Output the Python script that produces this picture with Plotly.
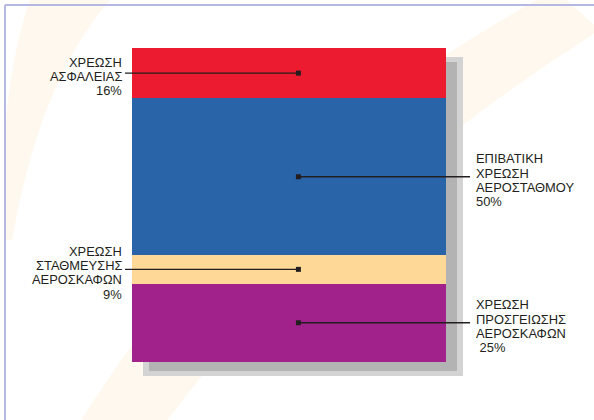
import plotly.graph_objects as go

# ---- data (bottom segment first) ----
categories = [
    "ΧΡΕΩΣΗ ΠΡΟΣΓΕΙΩΣΗΣ ΑΕΡΟΣΚΑΦΩΝ",
    "ΧΡΕΩΣΗ ΣΤΑΘΜΕΥΣΗΣ ΑΕΡΟΣΚΑΦΩΝ",
    "ΕΠΙΒΑΤΙΚΗ ΧΡΕΩΣΗ ΑΕΡΟΣΤΑΘΜΟΥ",
    "ΧΡΕΩΣΗ ΑΣΦΑΛΕΙΑΣ",
]
values = [25, 9, 50, 16]
pct_labels = ["\u00a025%", "9%", "50%", "16%"]
label_side = ["right", "left", "right", "left"]
colors = ["#A1228A", "#FED897", "#2964A9", "#ED1B2F"]

# ---- layout geometry (pixels of the 594x420 page) ----
W, H = 594, 420
L, R, T, B = 132, 148, 48, 58
PW, PH = W - L - R, H - T - B


def px(x):
    return (x - L) / PW


def py(y):
    return (H - B - y) / PH


TEXT = "#231F20"
FONT = dict(family="Liberation Sans, Arial, sans-serif", size=12.9, color=TEXT)

fig = go.Figure()
for cat, v, c in zip(categories, values, colors):
    fig.add_trace(go.Bar(
        x=[0], y=[v], width=[1], name=cat,
        marker=dict(color=c, line=dict(width=0)),
        hoverinfo="name+y", showlegend=False,
    ))

# segment centers via cumulative sums
centers = []
acc = 0
for v in values:
    centers.append(acc + v / 2)
    acc += v

marker_x = 0.03
fig.add_trace(go.Scatter(
    x=[marker_x] * len(centers), y=centers, mode="markers",
    marker=dict(symbol="square", size=5, color=TEXT),
    hoverinfo="skip", showlegend=False, cliponaxis=False,
))

shapes = []


def path_from(points_cmds):
    s = ""
    for cmd, pts in points_cmds:
        s += cmd + " " + " ".join(f"{px(a):.4f},{py(b):.4f}" for a, b in pts) + " "
    return s + "Z"


# very faint decorative background arcs
arc1 = path_from([("M", [(555, -10)]), ("Q", [(240, 160), (75, 430)]),
                  ("L", [(160, 430)]), ("Q", [(330, 200), (600, 30)])])
arc2 = path_from([("M", [(30, 0)]), ("L", [(110, 0)]), ("Q", [(40, 80), (12, 240)]),
                  ("L", [(5, 240)]), ("L", [(5, 130)]), ("Q", [(12, 50), (30, 0)])])
for p in (arc1, arc2):
    shapes.append(dict(type="path", path=p, xref="paper", yref="paper",
                       fillcolor="#FFF8EE", line=dict(width=0), layer="below"))

# frame lines
shapes.append(dict(type="line", xref="paper", yref="paper", x0=px(5), x1=px(600),
                   y0=py(5), y1=py(5), line=dict(color="#B4B8E2", width=2)))
shapes.append(dict(type="line", xref="paper", yref="paper", x0=px(5), x1=px(5),
                   y0=py(5), y1=py(425), line=dict(color="#B4B8E2", width=2)))

# drop shadow behind the bar
shapes.append(dict(type="rect", xref="paper", yref="paper", x0=px(143), x1=px(463),
                   y0=py(376), y1=py(57), fillcolor="#D3D3D4", line=dict(width=0), layer="below"))
shapes.append(dict(type="rect", xref="paper", yref="paper", x0=px(149), x1=px(457),
                   y0=py(371), y1=py(62), fillcolor="#B3B3B4", line=dict(width=0), layer="below"))

mx = px(298)
annotations = []
LINE_H = 14.2
for cat, pct, side, cy in zip(categories, pct_labels, label_side, centers):
    if side == "left":
        x0, x1 = px(125), mx
        tx, anchor = px(124), "right"
    else:
        x0, x1 = mx, px(470)
        tx, anchor = px(474), "left"
    shapes.append(dict(type="line", xref="paper", yref="y", x0=x0, x1=x1, y0=cy, y1=cy,
                       line=dict(color=TEXT, width=1.3)))
    lines = cat.split(" ") + [pct]
    n = len(lines)
    for i, t in enumerate(lines):
        annotations.append(dict(
            text=t, xref="paper", yref="y", x=tx, y=cy, xanchor=anchor, yanchor="middle",
            yshift=((n - 1) / 2 - i) * LINE_H - 3.5, showarrow=False, font=FONT,
        ))

fig.update_layout(
    width=W, height=H, autosize=False,
    margin=dict(l=L, r=R, t=T, b=B, pad=0),
    barmode="stack", bargap=0,
    paper_bgcolor="white", plot_bgcolor="rgba(0,0,0,0)",
    xaxis=dict(range=[-0.5, 0.5], visible=False, fixedrange=True),
    yaxis=dict(range=[0, 100], visible=False, fixedrange=True),
    shapes=shapes, annotations=annotations,
)

fig.write_html("out.html", config={"displayModeBar": False},
               post_script="document.body.style.margin='0';document.body.style.overflow='hidden';")
